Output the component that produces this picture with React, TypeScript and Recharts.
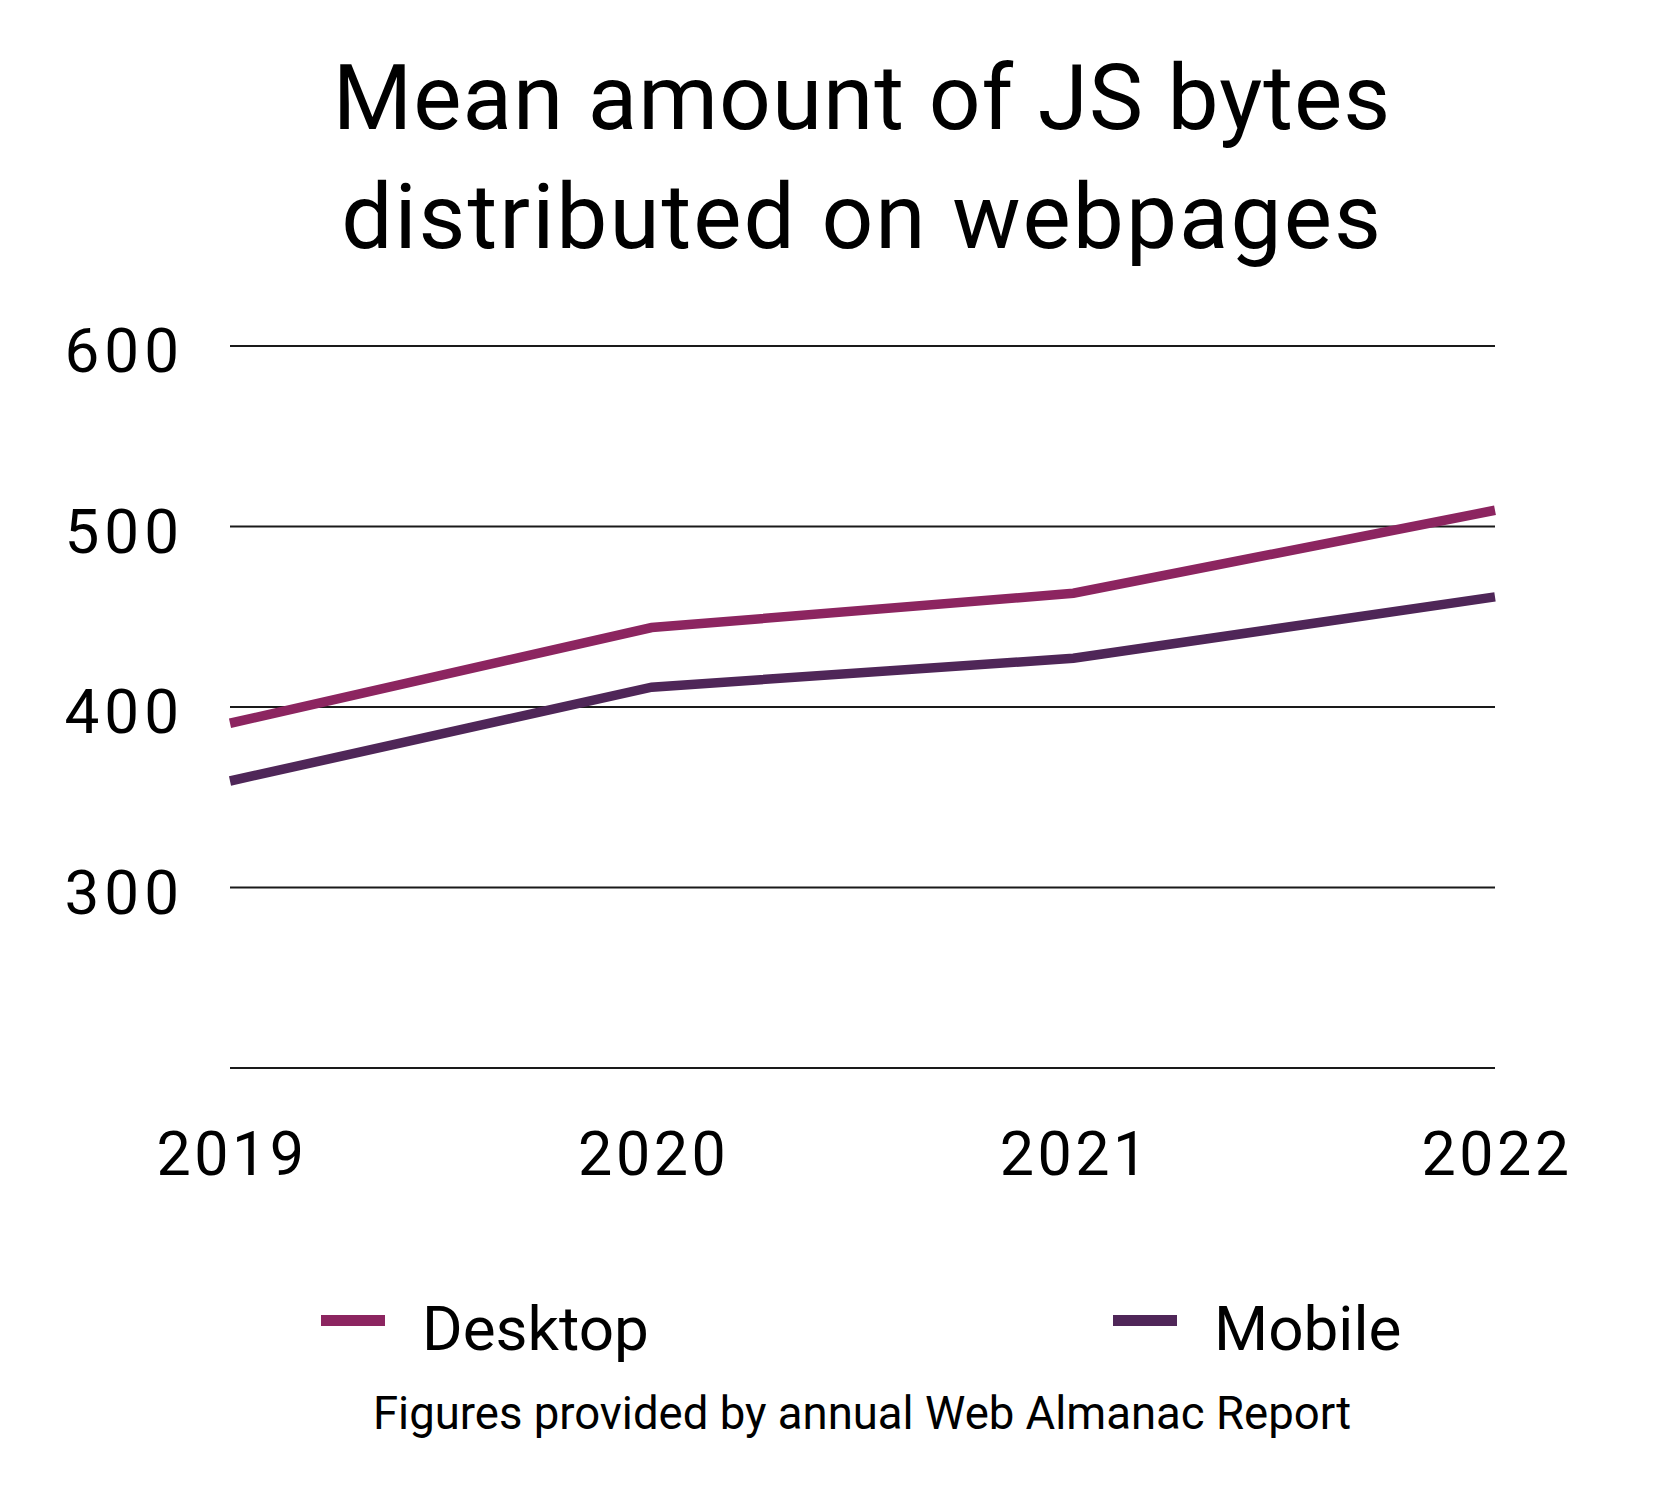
import { LineChart, Line, XAxis, YAxis, CartesianGrid } from 'recharts'

const years = ['2019', '2020', '2021', '2022']
const desktopKb = [391, 444, 463, 509]
const mobileKb = [359, 411, 427, 461]
const yTicks = [200, 300, 400, 500, 600]

const titleLines = ['Mean amount of JS bytes', 'distributed on webpages']
const footnote = 'Figures provided by annual Web Almanac Report'

const DESKTOP = '#8c2560'
const MOBILE = '#4f2658'
const FONT = 'Roboto, "Noto Sans", sans-serif'

const data = years.map((year, i) => ({ year, desktop: desktopKb[i], mobile: mobileKb[i] }))

// y labels: no label on the bottom (200) gridline
const YTick = ({ x, y, payload }: any) => {
  if (payload.value === 200) return null
  return (
    <text x={x + 6} y={y + 26} textAnchor="end" fontSize={62} letterSpacing={5} fill="#000" fontFamily={FONT}>
      {payload.value}
    </text>
  )
}

const XTick = ({ x, y, payload }: any) => (
  <text x={x + 2} y={y + 43} textAnchor="middle" fontSize={61} letterSpacing={3.5} fill="#000" fontFamily={FONT}>
    {payload.value}
  </text>
)

export default function App() {
  return (
    <div style={{ position: 'absolute', left: 0, top: 0, width: 1662, height: 1500, background: '#fff' }}>
      <LineChart width={1662} height={1500} data={data} margin={{ top: 346, right: 167, left: 0, bottom: 332 }}>
        <CartesianGrid vertical={false} stroke="#1a1a1a" strokeWidth={2} />
        <XAxis
          dataKey="year"
          axisLine={false}
          tickLine={false}
          tickSize={0}
          tickMargin={64}
          height={100}
          interval={0}
          tick={<XTick />}
        />
        <YAxis
          domain={[200, 600]}
          ticks={yTicks}
          axisLine={false}
          tickLine={false}
          tickSize={0}
          tickMargin={52}
          width={230}
          interval={0}
          tick={<YTick />}
        />
        <Line type="linear" dataKey="desktop" stroke={DESKTOP} strokeWidth={9.5} dot={false} isAnimationActive={false} />
        <Line type="linear" dataKey="mobile" stroke={MOBILE} strokeWidth={9.5} dot={false} isAnimationActive={false} />
      </LineChart>
      <svg width={1662} height={1500} style={{ position: 'absolute', left: 0, top: 0, pointerEvents: 'none' }}>
        <text x={862} y={129} textAnchor="middle" fontSize={91} letterSpacing={1} fill="#000" fontFamily={FONT}>
          {titleLines[0]}
        </text>
        <text x={862} y={248} textAnchor="middle" fontSize={91} letterSpacing={2} fill="#000" fontFamily={FONT}>
          {titleLines[1]}
        </text>
        <rect x={321} y={1315} width={64} height={11} fill={DESKTOP} />
        <text x={422} y={1350} fontSize={62} fill="#000" fontFamily={FONT}>Desktop</text>
        <rect x={1113} y={1315} width={64} height={11} fill={MOBILE} />
        <text x={1214} y={1350} fontSize={62} fill="#000" fontFamily={FONT}>Mobile</text>
        <text x={862} y={1429} textAnchor="middle" fontSize={45.5} fill="#000" fontFamily={FONT}>
          {footnote}
        </text>
      </svg>
    </div>
  )
}
